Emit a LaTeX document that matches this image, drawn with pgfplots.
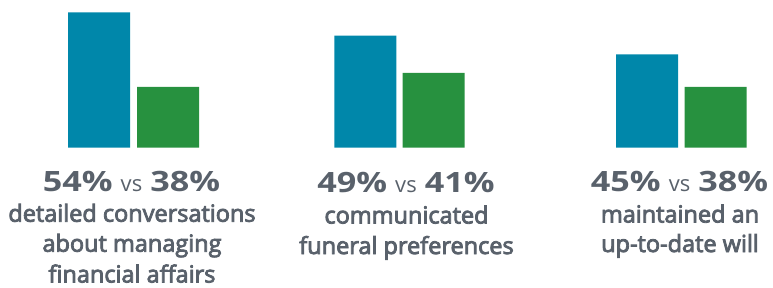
\documentclass[border=0pt]{standalone}
\usepackage{pgfplots}
\pgfplotsset{compat=1.18}
\usepackage{fontspec}
\setmainfont{Open Sans}
\newfontfamily\numfont[FakeStretch=1.22]{Open Sans}
\newfontfamily\descfont[FakeBold=3.5]{Open Sans}
\definecolor{cblue}{HTML}{0087AA}
\definecolor{cgreen}{HTML}{27913F}
\definecolor{cgray}{HTML}{59616B}
\newcommand{\bignum}[1]{{\numfont\fontsize{28}{28}\selectfont\bfseries #1}}
\newcommand{\vs}{\hspace{8pt}{\fontsize{22}{22}\selectfont vs}\hspace{8pt}}
\newcommand{\desc}{\descfont\fontsize{23.5}{30}\selectfont}
\begin{document}
\begin{tikzpicture}
\path (0,0) rectangle (773pt,-287pt);
\begin{axis}[
  name=ax, at={(0,0)}, anchor=north west,
  x=1pt, y=4.66pt,
  xmin=0, xmax=773, ymin=25, ymax=56.652,
  hide axis, clip mode=individual,
  ybar, bar width=62pt, bar shift=0pt,
]
\addplot[draw=none, fill=cblue] coordinates {(99,54) (365.3,49) (647,45)};
\addplot[draw=none, fill=cgreen] coordinates {(168,38) (433.5,41) (715.7,38)};
\end{axis}
\begin{scope}[every node/.style={anchor=base, inner sep=0pt, text=cgray}]
\node at (131.5pt,-191pt) {\bignum{54\%}\vs\bignum{38\%}};
\node at (132pt,-221.7pt) {\desc detailed conversations};
\node at (132pt,-251.7pt) {\desc about managing};
\node at (132pt,-282.5pt) {\desc financial affairs};
\node at (406pt,-192pt) {\bignum{49\%}\vs\bignum{41\%}};
\node at (406.5pt,-223.5pt) {\desc communicated};
\node at (406.5pt,-254pt) {\desc funeral preferences};
\node at (679.5pt,-191.5pt) {\bignum{45\%}\vs\bignum{38\%}};
\node at (680pt,-222.5pt) {\desc maintained an};
\node at (680pt,-252pt) {\desc up-to-date will};
\end{scope}
\end{tikzpicture}
\end{document}
